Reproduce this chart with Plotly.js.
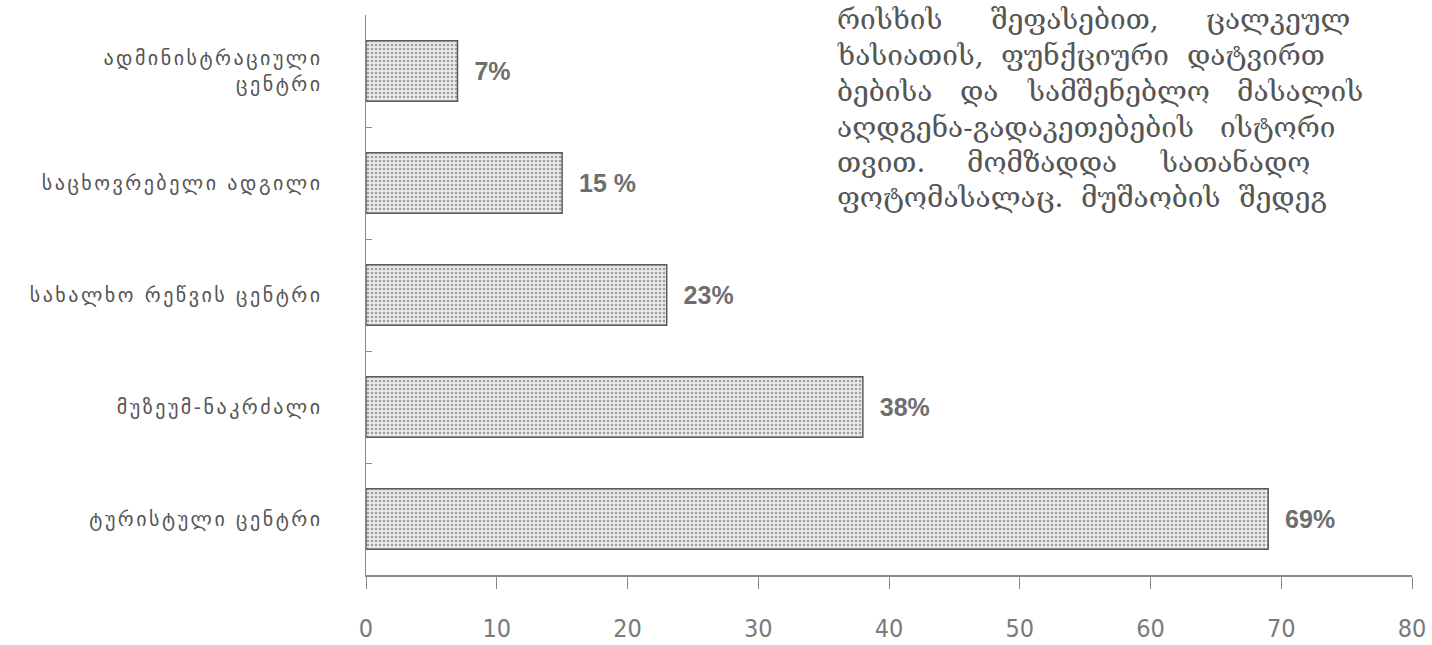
<!DOCTYPE html>
<html>
<head>
<meta charset="utf-8">
<script src="https://cdn.plot.ly/plotly-3.0.1.min.js"></script>
<style>
html,body{margin:0;padding:0;background:#ffffff;}
#chart{width:1432px;height:645px;}
#chart .ytick text{letter-spacing:2.5px;}
</style>
</head>
<body>
<div id="chart"></div>
<script>
// Data (top to bottom as in the picture)
const categories = [
  "ადმინისტრაციული<br>ცენტრი",
  "საცხოვრებელი ადგილი",
  "სახალხო რეწვის ცენტრი",
  "მუზეუმ-ნაკრძალი",
  "ტურისტული ცენტრი"
];
const values = [7, 15, 23, 38, 69];
const valueLabels = ["7%", "15 %", "23%", "38%", "69%"];
const xTicks = [0, 10, 20, 30, 40, 50, 60, 70, 80];
// Body text of the book page (cut off at the right edge), word by word per line
const bodyWords = [
  ["რისხის", "შეფასებით,", "ცალკეულ"],
  ["ხასიათის,", "ფუნქციური", "დატვირთ"],
  ["ბებისა", "და", "სამშენებლო", "მასალის"],
  ["აღდგენა-გადაკეთებების", "ისტორი"],
  ["თვით.", "მომზადდა", "სათანადო"],
  ["ფოტომასალაც.", "მუშაობის", "შედეგ"]
];
// word gap (px) of each justified line, and line centres (px)
const bodyGap = [44, 14, 24, 22, 38, 14];
const bodyLineY = [20, 56, 92, 128, 163, 198];
const bodyLeft = 835;
const bodyFontSize = 28;
const bodyFont = 'DejaVu Serif, DejaVu Sans, serif';

const PL = 366, PR = 1412, PT = 15, PB = 575;

const trace = {
  type: 'bar',
  orientation: 'h',
  y: categories,
  x: values,
  text: valueLabels,
  texttemplate: '  %{text}',
  textposition: 'outside',
  cliponaxis: false,
  textfont: {family: 'Liberation Sans, Arial, sans-serif', size: 25, color: '#6e6e6e', weight: 'bold'},
  marker: {
    color: '#e4e4e4',
    line: {color: '#5a5a5a', width: 1.5},
    pattern: {shape: '.', fgcolor: '#a0a0a0', bgcolor: '#ececec', size: 4, solidity: 0.35}
  },
  hoverinfo: 'skip'
};

// measure word widths to lay out each justified line
const ctx = document.createElement('canvas').getContext('2d');
ctx.font = bodyFontSize + 'px "DejaVu Serif"';
const annotations = [];
bodyWords.forEach((words, i) => {
  let x = bodyLeft;
  words.forEach((w) => {
    annotations.push({
      xref: 'paper', yref: 'paper',
      x: (x - PL) / (PR - PL),
      y: 1 + (PT - bodyLineY[i]) / (PB - PT),
      xanchor: 'left', yanchor: 'middle', align: 'left',
      text: w,
      showarrow: false,
      font: {family: bodyFont, size: bodyFontSize, color: '#555555'}
    });
    x += ctx.measureText(w).width + 4 + bodyGap[i];
  });
});

const layout = {
  width: 1432,
  height: 645,
  margin: {l: PL, r: 1432 - PR, t: PT, b: 645 - PB},
  paper_bgcolor: '#ffffff',
  plot_bgcolor: '#ffffff',
  showlegend: false,
  bargap: 0.46,
  xaxis: {
    range: [0, 80],
    tickvals: xTicks,
    ticktext: xTicks.map(String),
    showgrid: false,
    zeroline: false,
    showline: true,
    linecolor: '#8a8a8a',
    linewidth: 1.5,
    ticks: 'outside',
    ticklen: 12,
    tickcolor: '#8a8a8a',
    ticklabelstandoff: 18,
    tickfont: {family: 'Liberation Sans Narrow, DejaVu Sans Condensed, Liberation Sans, sans-serif', size: 25, color: '#7a7a7a'}
  },
  yaxis: {
    categoryorder: 'array',
    categoryarray: categories,
    autorange: 'reversed',
    showgrid: false,
    zeroline: false,
    showline: true,
    linecolor: '#8a8a8a',
    linewidth: 1.5,
    ticks: 'inside',
    tickson: 'boundaries',
    ticklen: 6,
    tickcolor: '#8a8a8a',
    ticklabelstandoff: 38,
    tickfont: {family: 'DejaVu Sans, sans-serif', size: 20, color: '#555555'}
  },
  annotations: annotations
};

Plotly.newPlot('chart', [trace], layout, {displayModeBar: false, staticPlot: true});
</script>
</body>
</html>
